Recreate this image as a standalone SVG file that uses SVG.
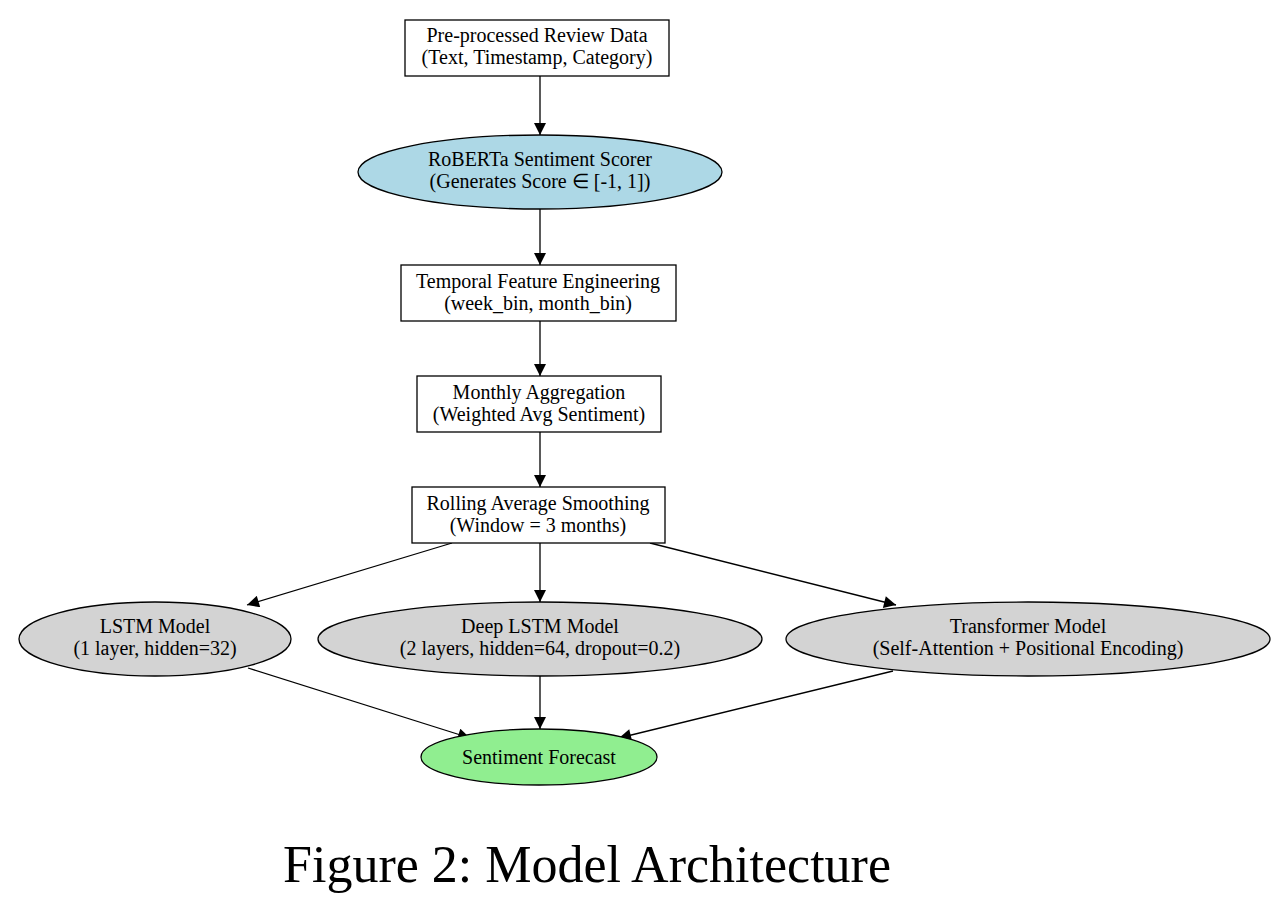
<svg xmlns="http://www.w3.org/2000/svg" width="1280" height="900" viewBox="0 0 1280 900">
<defs>
<style>
.lbl{font-family:"Liberation Serif","Times New Roman",serif;font-size:20px;fill:#000;text-anchor:middle}
.box{fill:#fff;stroke:#000;stroke-width:1.3}
.ell{stroke:#000;stroke-width:1.3}
.edge{stroke:#000;stroke-width:1.3;fill:none;marker-end:url(#ah)}
.cap{font-family:"Liberation Serif","Times New Roman",serif;font-size:52px;fill:#000;text-anchor:middle}
</style>
<marker id="ah" viewBox="0 0 10 10" refX="10" refY="5" markerWidth="14" markerHeight="12" markerUnits="userSpaceOnUse" orient="auto">
<path d="M0,0 L10,5 L0,10 Z" fill="#000"/>
</marker>
</defs>
<rect width="1280" height="900" fill="#fff"/>
<g id="connectors">
<line class="edge" x1="540" y1="76" x2="540" y2="135"/>
<line class="edge" x1="540" y1="209" x2="540" y2="265"/>
<line class="edge" x1="540" y1="321" x2="540" y2="376"/>
<line class="edge" x1="540" y1="432" x2="540" y2="487"/>
<line class="edge" x1="540" y1="543" x2="540" y2="602"/>
<line class="edge" x1="452" y1="543" x2="247" y2="605"/>
<line class="edge" x1="650" y1="543" x2="896" y2="605"/>
<line class="edge" x1="540" y1="676" x2="540" y2="729"/>
<line class="edge" x1="248" y1="668" x2="470" y2="738"/>
<line class="edge" x1="893" y1="671" x2="619" y2="738"/>
</g>
<g id="n_preprocessed">
<rect class="box" x="405" y="20" width="264" height="56"/>
<text class="lbl" x="537" y="42">Pre-processed Review Data</text>
<text class="lbl" x="537" y="64">(Text, Timestamp, Category)</text>
</g>
<g id="n_roberta">
<ellipse class="ell" cx="540" cy="172" rx="182" ry="37" fill="#add8e6"/>
<text class="lbl" x="540" y="166">RoBERTa Sentiment Scorer</text>
<text class="lbl" x="540" y="188">(Generates Score ∈ [-1, 1])</text>
</g>
<g id="n_temporal">
<rect class="box" x="401" y="265" width="275" height="56"/>
<text class="lbl" x="538" y="288">Temporal Feature Engineering</text>
<text class="lbl" x="538" y="310">(week_bin, month_bin)</text>
</g>
<g id="n_monthly">
<rect class="box" x="417" y="376" width="244" height="56"/>
<text class="lbl" x="539" y="399">Monthly Aggregation</text>
<text class="lbl" x="539" y="421">(Weighted Avg Sentiment)</text>
</g>
<g id="n_rolling">
<rect class="box" x="412" y="487" width="253" height="56"/>
<text class="lbl" x="538" y="510">Rolling Average Smoothing</text>
<text class="lbl" x="538" y="532">(Window = 3 months)</text>
</g>
<g id="n_lstm">
<ellipse class="ell" cx="155" cy="639" rx="136" ry="37" fill="#d3d3d3"/>
<text class="lbl" x="155" y="633">LSTM Model</text>
<text class="lbl" x="155" y="655">(1 layer, hidden=32)</text>
</g>
<g id="n_deeplstm">
<ellipse class="ell" cx="540" cy="639" rx="222" ry="37" fill="#d3d3d3"/>
<text class="lbl" x="540" y="633">Deep LSTM Model</text>
<text class="lbl" x="540" y="655">(2 layers, hidden=64, dropout=0.2)</text>
</g>
<g id="n_transformer">
<ellipse class="ell" cx="1028" cy="639" rx="242" ry="37" fill="#d3d3d3"/>
<text class="lbl" x="1028" y="633">Transformer Model</text>
<text class="lbl" x="1028" y="655">(Self-Attention + Positional Encoding)</text>
</g>
<g id="n_forecast">
<ellipse class="ell" cx="539" cy="757" rx="118" ry="28" fill="#90ee90"/>
<text class="lbl" x="539" y="764">Sentiment Forecast</text>
</g>
<text class="cap" x="587" y="882">Figure 2: Model Architecture</text>
</svg>
